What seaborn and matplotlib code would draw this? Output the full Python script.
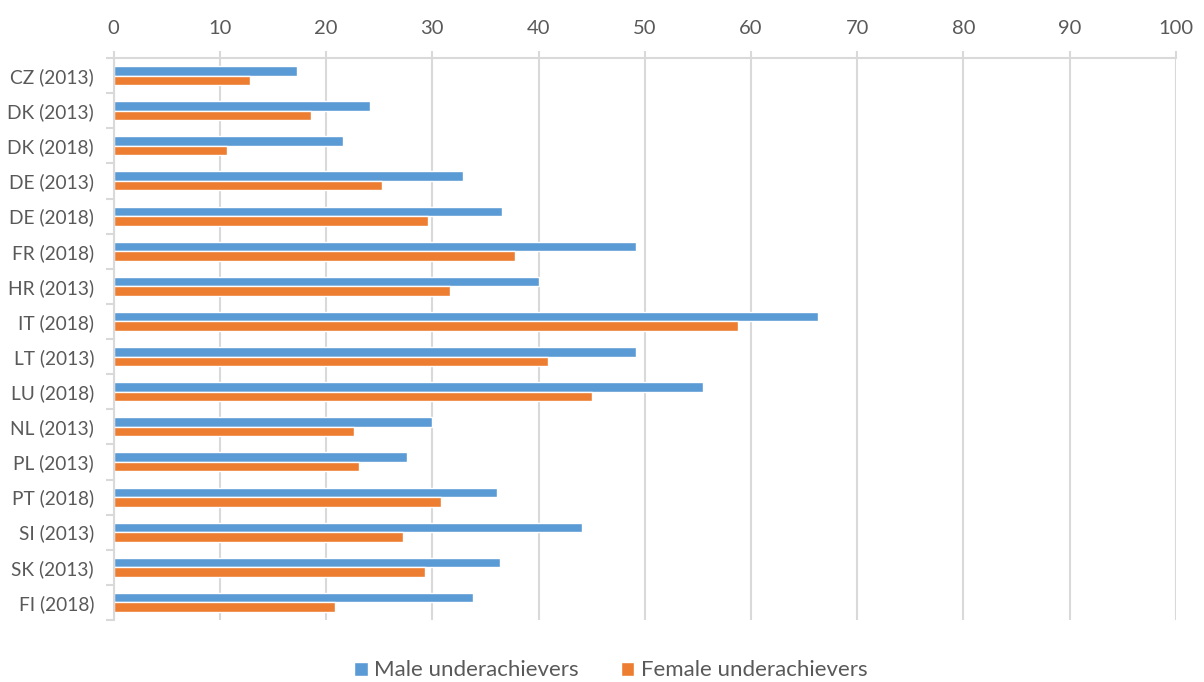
import numpy as np
import matplotlib
matplotlib.use('Agg')
import matplotlib.pyplot as plt
import pandas as pd
import seaborn as sns

countries = ['CZ (2013)', 'DK (2013)', 'DK (2018)', 'DE (2013)', 'DE (2018)', 'FR (2018)',
             'HR (2013)', 'IT (2018)', 'LT (2013)', 'LU (2018)', 'NL (2013)', 'PL (2013)',
             'PT (2018)', 'SI (2013)', 'SK (2013)', 'FI (2018)']
male = [17.3, 24.1, 21.6, 32.9, 36.6, 49.2, 40.0, 66.3, 49.2, 55.5, 30.0, 27.6, 36.1, 44.1, 36.4, 33.8]
female = [12.8, 18.6, 10.7, 25.3, 29.6, 37.8, 31.7, 58.8, 40.9, 45.0, 22.6, 23.1, 30.8, 27.2, 29.3, 20.8]
series = ['Male underachievers', 'Female underachievers']
x_ticks = list(range(0, 101, 10))

# long format for seaborn
df = pd.DataFrame({'country': countries * 2,
                   'value': male + female,
                   'group': [series[0]] * len(countries) + [series[1]] * len(countries)})

sns.set_style('white')
plt.rcParams['font.family'] = ['Lato', 'DejaVu Sans']
text_col = '#595959'
grid_col = '#D9D9D9'

fig = plt.figure(figsize=(12.04, 6.82), dpi=100)
ax = fig.add_axes([0.0943, 0.0909, 0.8824, 0.824])

sns.barplot(data=df, y='country', x='value', hue='group', orient='h',
            palette=['#5B9BD5', '#ED7D31'], width=0.54, gap=0, ax=ax,
            errorbar=None, saturation=1, legend=True)

ax.set_xlim(0, 100)
ax.set_ylim(len(countries) - 0.5, -0.5)
ax.set_xticks(x_ticks)
ax.xaxis.tick_top()
ax.set_xlabel('')
ax.set_ylabel('')
ax.grid(axis='x', color=grid_col, linewidth=1.5)
ax.set_axisbelow(True)

for side in ['right', 'bottom']:
    ax.spines[side].set_visible(False)
for side in ['top', 'left']:
    ax.spines[side].set_color(grid_col)
    ax.spines[side].set_linewidth(1.5)

ax.tick_params(axis='x', top=True, length=5, width=1.5, color=grid_col,
               labelsize=14.5, labelcolor=text_col, pad=10)
ax.tick_params(axis='y', which='major', length=0, labelsize=13.8, labelcolor=text_col, pad=14)
ax.set_yticks(np.arange(-0.5, len(countries), 1), minor=True)
ax.tick_params(axis='y', which='minor', left=True, length=6, width=1.5, color=grid_col)

handles, labels = ax.get_legend_handles_labels()
ax.get_legend().remove()
fig.legend(handles, labels, loc='center', bbox_to_anchor=(0.5075, 0.017), ncol=2,
           frameon=False, fontsize=16, labelcolor=text_col, handlelength=0.6,
           handleheight=0.6, handletextpad=0.3, columnspacing=1.9)

fig.savefig('out.png', dpi=100)
